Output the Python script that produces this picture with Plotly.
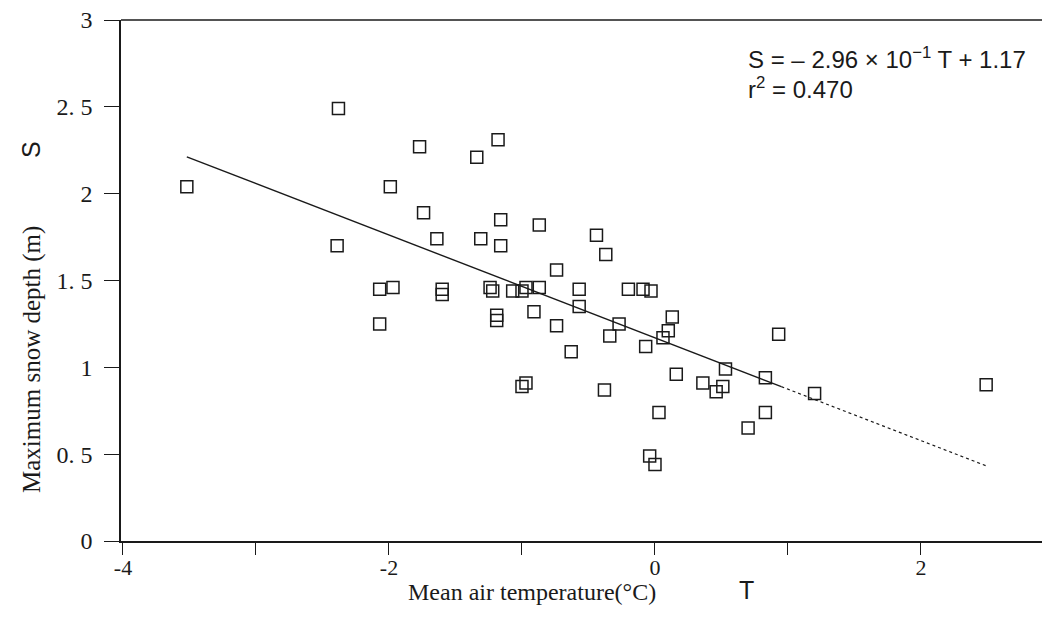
import plotly.graph_objects as go

# Data (Mean air temperature T [°C], Maximum snow depth S [m])
temperature = [-3.52, -2.38, -1.77, -1.34, -1.18, -1.99, -1.74, -1.64, -1.31, -1.16,
               -1.16, -2.39, -2.07, -1.97, -1.60, -1.60, -1.24, -1.22, -1.19, -1.19,
               -2.07, -0.87, -0.44, -0.37, -0.74, -1.07, -1.00, -0.97, -0.87, -0.57,
               -0.57, -0.20, -0.09, -0.03, -0.91, -0.74, -0.27, -0.34, -0.07, 0.13,
               0.10, 0.06, -0.63, -1.00, -0.97, -0.38, 0.16, 0.36, 0.03, -0.04,
               0.00, 0.51, 0.46, 0.53, 0.83, 0.93, 1.20, 2.49, 0.83, 0.70]
snow_depth = [2.04, 2.49, 2.27, 2.21, 2.31, 2.04, 1.89, 1.74, 1.74, 1.85,
              1.70, 1.70, 1.45, 1.46, 1.45, 1.42, 1.46, 1.44, 1.30, 1.27,
              1.25, 1.82, 1.76, 1.65, 1.56, 1.44, 1.44, 1.46, 1.46, 1.45,
              1.35, 1.45, 1.45, 1.44, 1.32, 1.24, 1.25, 1.18, 1.12, 1.29,
              1.21, 1.17, 1.09, 0.89, 0.91, 0.87, 0.96, 0.91, 0.74, 0.49,
              0.44, 0.89, 0.86, 0.99, 0.94, 1.19, 0.85, 0.90, 0.74, 0.65]

# Regression S = -2.96e-1 T + 1.17
slope = -0.296
intercept = 1.17
solid_T = [-3.52, 0.95]
dashed_T = [0.95, 2.49]

y_tickvals = [0, 0.5, 1, 1.5, 2, 2.5, 3]
y_ticktext = ["0", "0. 5", "1", "1. 5", "2", "2. 5", "3"]
x_tickvals = [-4, -3, -2, -1, 0, 1, 2]
x_ticktext = ["-4", "", "-2", "", "0", "", "2"]

# page has a default 8px body margin: compensate
OFF = 8
W, H = 1050 - OFF, 619 - OFF
L, T_ = 121 - OFF, 20 - OFF
R = 0
B = H - (541 - OFF)
PW, PH = W - L - R, H - T_ - B


def px(x):
    return (x - OFF - L) / PW


def py(y):
    return (H - B - (y - OFF)) / PH


fig = go.Figure()
fig.add_trace(go.Scatter(
    x=solid_T, y=[slope * t + intercept for t in solid_T], mode="lines",
    line=dict(color="#1a1a1a", width=1.4), showlegend=False, hoverinfo="skip"))
fig.add_trace(go.Scatter(
    x=dashed_T, y=[slope * t + intercept for t in dashed_T], mode="lines",
    line=dict(color="#1a1a1a", width=1.2, dash="3px,3px"), showlegend=False, hoverinfo="skip"))
fig.add_trace(go.Scatter(
    x=temperature, y=snow_depth, mode="markers",
    marker=dict(symbol="square-open", size=12, color="#1a1a1a", line=dict(width=1.5, color="#1a1a1a")),
    showlegend=False))

serif = "Liberation Serif, Times New Roman, serif"
sans = "Liberation Sans, Arial, sans-serif"

fig.update_layout(
    width=W, height=H,
    margin=dict(l=L, r=R, t=T_, b=B, pad=0),
    paper_bgcolor="white", plot_bgcolor="white",
    xaxis=dict(range=[-4.015, 2.97], showgrid=False, zeroline=False,
               showline=True, linecolor="#1a1a1a", linewidth=1.5,
               ticks="outside", ticklen=12, tickwidth=1.2, tickcolor="#1a1a1a",
               tickvals=x_tickvals, ticktext=x_ticktext, ticklabelstandoff=-6,
               ticklabeloverflow="allow",
               tickfont=dict(family=serif, size=22, color="#1a1a1a")),
    yaxis=dict(range=[0, 3], showgrid=False, zeroline=False,
               showline=True, linecolor="#1a1a1a", linewidth=1.5,
               ticks="outside", ticklen=15, tickwidth=1.2, tickcolor="#1a1a1a",
               tickvals=y_tickvals, ticktext=y_ticktext, ticklabelstandoff=7,
               ticklabeloverflow="allow",
               tickfont=dict(family=serif, size=24, color="#1a1a1a")),
    shapes=[dict(type="line", xref="paper", yref="paper", x0=0, x1=1, y0=1, y1=1,
                 line=dict(color="#1a1a1a", width=1.5))],
    annotations=[
        dict(text="Maximum snow depth (m)", textangle=-90, xref="paper", yref="paper",
             x=px(32), y=py(360), showarrow=False, xanchor="center", yanchor="middle",
             font=dict(family=serif, size=25, color="#1a1a1a")),
        dict(text="S", textangle=-90, xref="paper", yref="paper",
             x=px(31), y=py(150), showarrow=False, xanchor="center", yanchor="middle",
             font=dict(family=sans, size=25, color="#1a1a1a")),
        dict(text="Mean air temperature(°C)", xref="paper", yref="paper",
             x=px(532), y=py(592), showarrow=False, xanchor="center", yanchor="middle",
             font=dict(family=serif, size=24, color="#1a1a1a")),
        dict(text="T", xref="paper", yref="paper",
             x=px(746), y=py(590), showarrow=False, xanchor="center", yanchor="middle",
             font=dict(family=sans, size=25, color="#1a1a1a")),
        dict(text="S = – 2.96 × 10<sup>−1</sup> T + 1.17", xref="paper", yref="paper",
             x=px(746), y=py(58), showarrow=False, xanchor="left", yanchor="middle",
             font=dict(family=sans, size=24, color="#1a1a1a")),
        dict(text="r<sup>2</sup> = 0.470", xref="paper", yref="paper",
             x=px(746), y=py(88), showarrow=False, xanchor="left", yanchor="middle",
             font=dict(family=sans, size=24, color="#1a1a1a")),
    ],
)

fig.write_html("out.html")
